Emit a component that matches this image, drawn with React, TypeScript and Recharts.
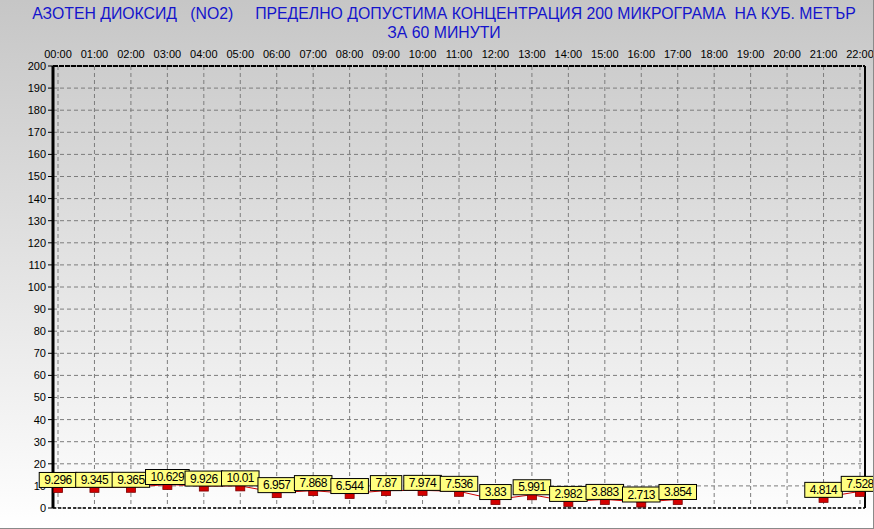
import React from 'react';
import { LineChart, Line, XAxis, YAxis, CartesianGrid, LabelList } from 'recharts';

const hours = [
  '00:00', '01:00', '02:00', '03:00', '04:00', '05:00', '06:00', '07:00',
  '08:00', '09:00', '10:00', '11:00', '12:00', '13:00', '14:00', '15:00',
  '16:00', '17:00', '18:00', '19:00', '20:00', '21:00', '22:00',
];

const no2 = [
  9.296, 9.345, 9.365, 10.629, 9.926, 10.01, 6.957, 7.868,
  6.544, 7.87, 7.974, 7.536, 3.83, 5.991, 2.982, 3.883,
  2.713, 3.854, null, null, null, 4.814, 7.528,
];

const yTicks = [0, 10, 20, 30, 40, 50, 60, 70, 80, 90, 100, 110, 120, 130, 140, 150, 160, 170, 180, 190, 200];

const data = hours.map((h, i) => ({ name: h, value: no2[i] }));

const FONT = "Arial, 'Liberation Sans', sans-serif";

const Marker = (props: any) => {
  const { cx, cy, index } = props;
  if (cx == null || cy == null || no2[index] == null) return <g key={index} />;
  return (
    <rect key={index} x={cx - 4.5} y={cy - 5} width={9} height={10} fill="#d40000" stroke="#7a0000" strokeWidth={0.8} />
  );
};

const ValueLabel = (props: any) => {
  const { x, y, value, index } = props;
  if (value == null || x == null || y == null) return null;
  const txt = String(value);
  let w = 10;
  for (const c of txt) w += c === '.' ? 3.06 : 6.12;
  return (
    <g key={index}>
      <rect x={x - w / 2} y={y - 15} width={w} height={15} fill="#ffff80" stroke="#000" strokeWidth={1} />
      <text x={x} y={y - 3.5} textAnchor="middle" fontSize={12} letterSpacing={-0.5} fontFamily={FONT} fill="#000">
        {txt}
      </text>
    </g>
  );
};

export default function App() {
  return (
    <div
      style={{
        position: 'absolute',
        left: 0,
        top: 0,
        width: 874,
        height: 529,
        boxSizing: 'border-box',
        borderRight: '1px solid #8a8a8a',
        borderBottom: '1px solid #8a8a8a',
        background: 'linear-gradient(#c6c6c6, #ffffff)',
        fontFamily: FONT,
        overflow: 'hidden',
      }}
    >
      <div
        style={{
          position: 'absolute',
          left: 0,
          top: 4,
          width: 888,
          textAlign: 'center',
          color: '#1414cc',
          fontSize: 15.8,
          lineHeight: '19px',
          whiteSpace: 'pre',
        }}
      >
        {'АЗОТЕН ДИОКСИД   (NO2)     ПРЕДЕЛНО ДОПУСТИМА КОНЦЕНТРАЦИЯ 200 МИКРОГРАМА  НА КУБ. МЕТЪР'}
        <br />
        {'ЗА 60 МИНУТИ'}
      </div>
      <div style={{ position: 'absolute', left: 0, top: 0 }}>
        <LineChart width={874} height={529} data={data} margin={{ top: 46, right: 8, bottom: 20, left: 8 }}>
          <CartesianGrid stroke="#7c7c7c" strokeDasharray="4 3" horizontal vertical />
          <XAxis
            dataKey="name"
            orientation="top"
            height={20}
            padding={{ left: 5, right: 5 }}
            interval={0}
            tickLine={false}
            tickSize={6}
            tickMargin={2}
            axisLine={{ stroke: '#000', strokeWidth: 2, strokeDasharray: '5 1' }}
            tick={{ fill: '#000', fontSize: 11, fontFamily: FONT }}
          />
          <XAxis
            xAxisId="b"
            dataKey="name"
            orientation="bottom"
            height={1}
            tick={false}
            tickLine={false}
            axisLine={{ stroke: '#000', strokeWidth: 1.5, strokeDasharray: '3 2' }}
          />
          <YAxis
            domain={[0, 200]}
            ticks={yTicks}
            interval={0}
            width={45}
            tickSize={5}
            tickMargin={2}
            tickLine={{ stroke: '#000' }}
            axisLine={{ stroke: '#000', strokeWidth: 3 }}
            tick={{ fill: '#000', fontSize: 11, fontFamily: FONT }}
          />
          <YAxis
            yAxisId="r"
            orientation="right"
            width={1}
            tick={false}
            tickLine={false}
            axisLine={{ stroke: '#000', strokeWidth: 2 }}
          />
          <Line
            dataKey="value"
            stroke="#d00000"
            strokeWidth={1}
            dot={<Marker />}
            activeDot={false}
            connectNulls={false}
            isAnimationActive={false}
          />
          <Line
            dataKey="value"
            stroke="none"
            dot={false}
            activeDot={false}
            connectNulls={false}
            isAnimationActive={false}
          >
            <LabelList dataKey="value" content={<ValueLabel />} />
          </Line>
        </LineChart>
      </div>
    </div>
  );
}
